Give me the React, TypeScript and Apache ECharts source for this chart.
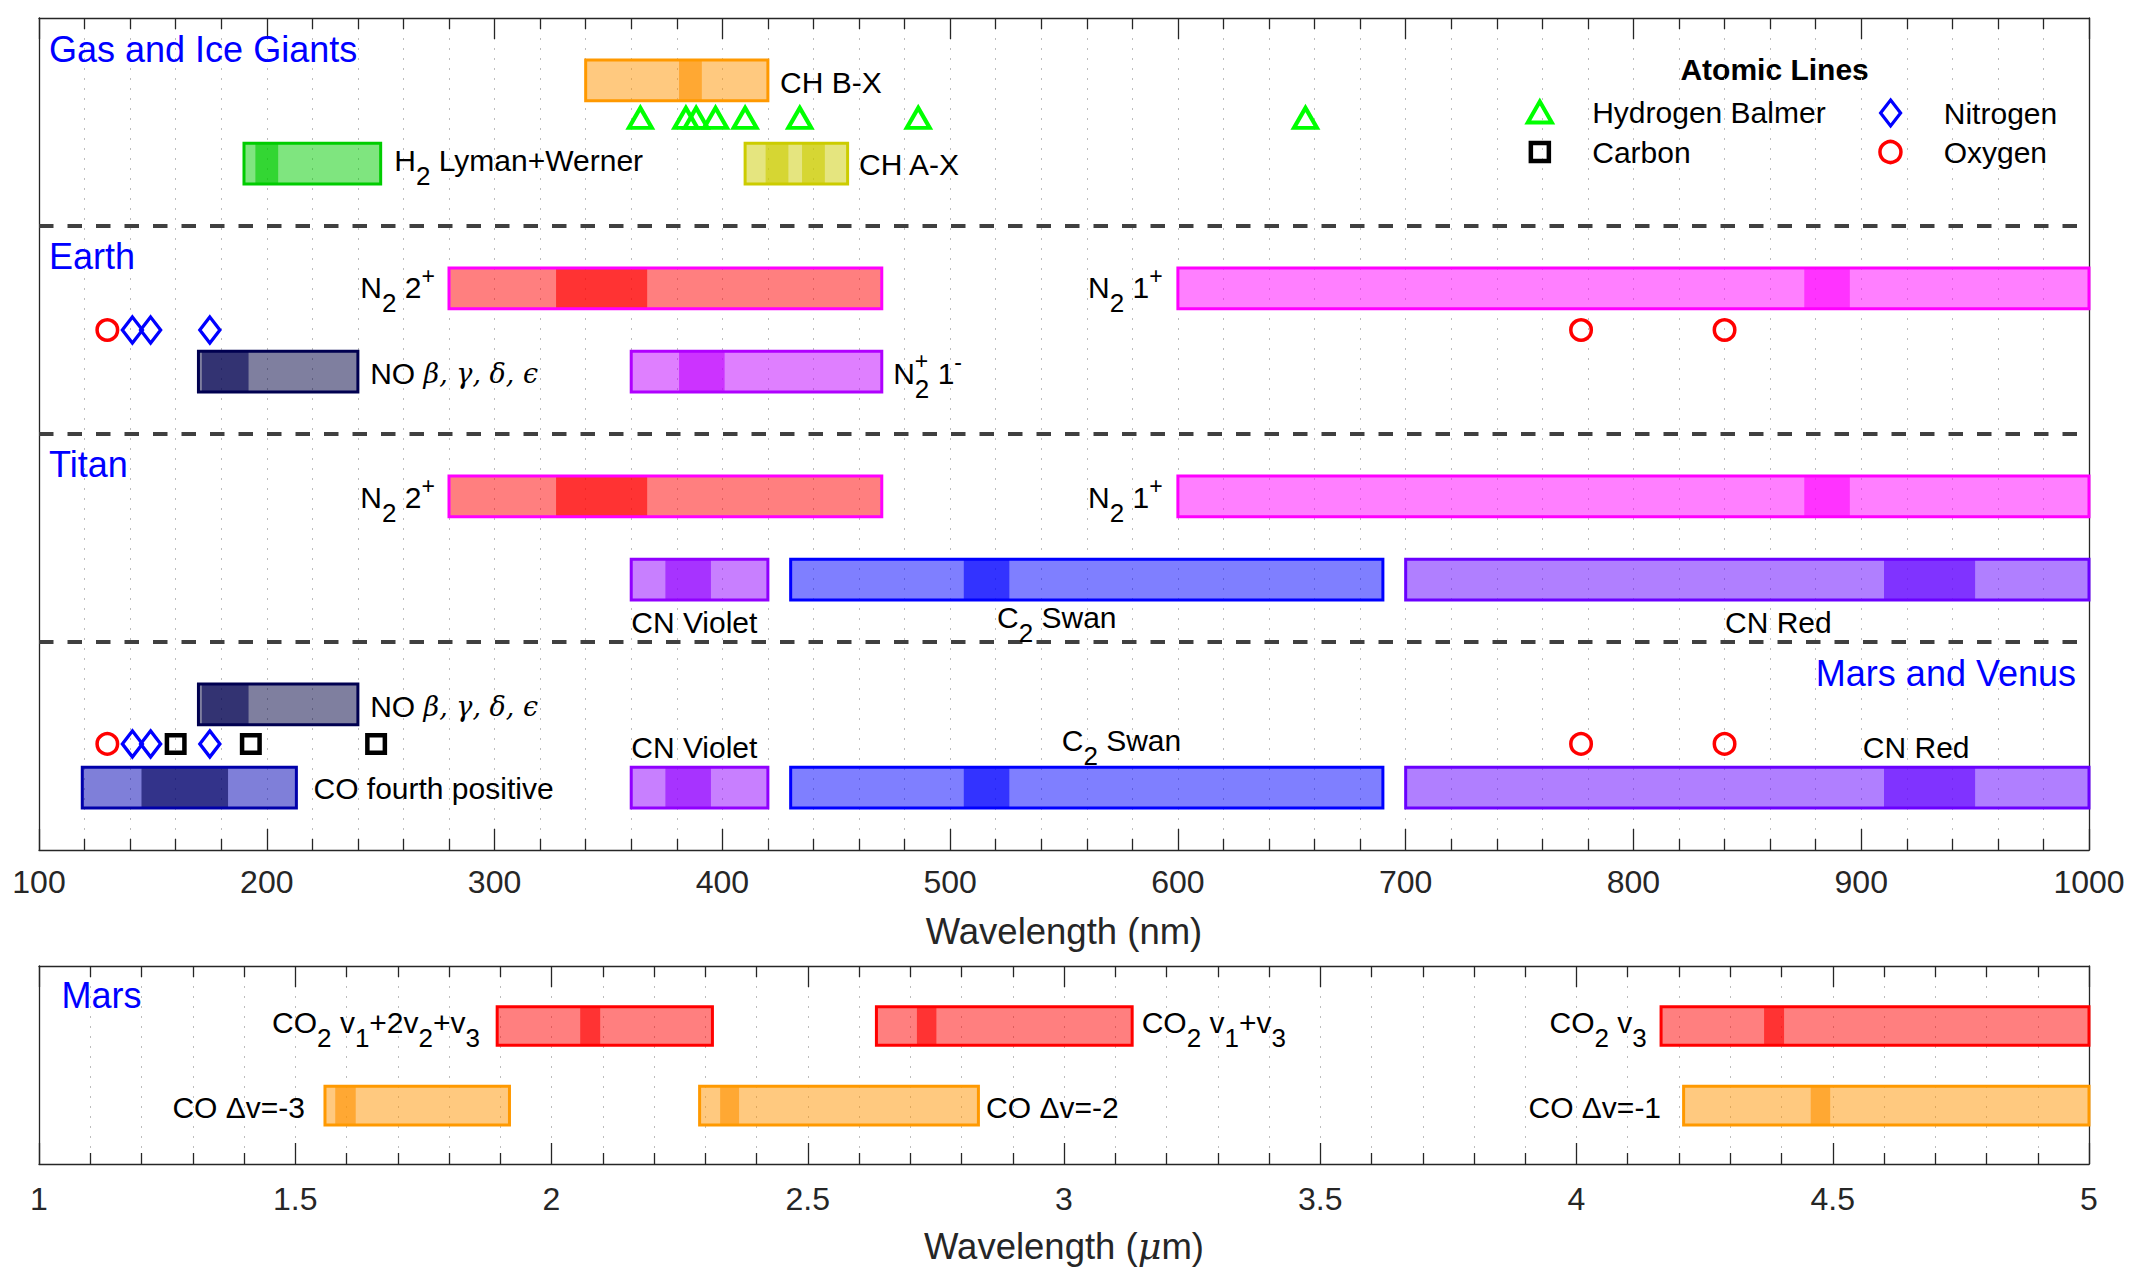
import React, { useEffect, useRef } from "react";
import * as echarts from "echarts";

// ================= DATA =================
// UV / visible panel: wavelength in nm. Rows: vertical position in panel units (0 = top, 40 = bottom).
const uvMin = 100;
const uvMax = 1000;
const uvStep = 100;
const uvRowMax = 40;
const sectionDividers = [10, 20, 30];

const bandNames = [
  "CH B-X", "H2 Lyman+Werner", "CH A-X",
  "N2 2+ (Earth)", "N2 1+ (Earth)", "NO (Earth)", "N2+ 1- (Earth)",
  "N2 2+ (Titan)", "N2 1+ (Titan)", "CN Violet (Titan)", "C2 Swan (Titan)", "CN Red (Titan)",
  "NO (Mars/Venus)", "CO fourth positive", "CN Violet (Mars/Venus)", "C2 Swan (Mars/Venus)", "CN Red (Mars/Venus)",
];
const bandStartNm = [340, 190, 410, 280, 600, 170, 360, 280, 600, 360, 430, 700, 170, 119, 360, 430, 700];
const bandEndNm = [420, 250, 455, 470, 1000, 240, 470, 470, 1000, 420, 690, 1000, 240, 213, 420, 690, 1000];
const bandRow = [3, 7, 7, 13, 13, 17, 17, 23, 23, 27, 27, 27, 33, 37, 37, 37, 37];
const bandCoreNm = [
  [[381, 391]], [[195, 205]], [[419, 429], [435, 445]],
  [[327, 367]], [[875, 895]], [[171.5, 192]], [[381, 401]],
  [[327, 367]], [[875, 895]], [[375, 395]], [[506, 526]], [[910, 950]],
  [[171.5, 192]], [[145, 183]], [[375, 395]], [[506, 526]], [[910, 950]],
];
const bandKind = [
  "chbx", "h2", "chax",
  "n2pos2", "n2pos1", "no", "n2plus",
  "n2pos2", "n2pos1", "cnviolet", "c2swan", "cnred",
  "no", "co4", "cnviolet", "c2swan", "cnred",
];

// Atomic lines (nm)
const balmerNm = [364, 384, 388.5, 397, 410, 434, 486, 656];
const balmerRow = 4.8;
const oxygenNm = [130, 777, 840];
const nitrogenNm = [141, 149, 175];
const carbonNm = [160, 193, 248];
const earthAtomRow = 15;
const marsVenusAtomRow = 34.9;

// Infrared panel: wavelength in µm, rows 0..10
const irMin = 1;
const irMax = 5;
const irStep = 0.5;
const irRowMax = 10;
const irBandNames = ["CO2 v1+2v2+v3", "CO2 v1+v3", "CO2 v3", "CO Δv=-3", "CO Δv=-2", "CO Δv=-1"];
const irBandStartUm = [1.894, 2.634, 4.165, 1.558, 2.289, 4.209];
const irBandEndUm = [2.314, 3.133, 5, 1.918, 2.833, 5];
const irBandRow = [3.03, 3.03, 3.03, 7.05, 7.05, 7.05];
const irBandCoreUm = [[[2.056, 2.095]], [[2.713, 2.751]], [[4.366, 4.405]], [[1.578, 1.618]], [[2.329, 2.366]], [[4.457, 4.495]]];
const irBandKind = ["co2", "co2", "co2", "co", "co", "co"];

// Annotations (anchor in data coordinates)
const uvLabelText = [
  "Gas and Ice Giants", "CH B-X", "{m|H}{sb|2}{m| Lyman+Werner}", "CH A-X",
  "Earth", "{m|N}{sb|2}{m| 2}{sp|+}", "{m|N}{sb|2}{m| 1}{sp|+}", "{m|NO }{g|β, γ, δ, ϵ}", "{m|N}{sb|2}{m| 1}{sp|-}",
  "Titan", "{m|N}{sb|2}{m| 2}{sp|+}", "{m|N}{sb|2}{m| 1}{sp|+}", "CN Violet", "{m|C}{sb|2}{m| Swan}", "CN Red",
  "Mars and Venus", "{m|NO }{g|β, γ, δ, ϵ}", "CO fourth positive", "CN Violet", "{m|C}{sb|2}{m| Swan}", "CN Red",
];
const uvLabelX = [104.4, 425.3, 256, 460, 104.4, 273.8, 593.3, 245.4, 475, 104.4, 273.8, 593.3, 360, 520.6, 840.2, 994.3, 245.4, 220.5, 360, 549, 900.7];
const uvLabelY = [1.51, 3.08, 6.83, 7.04, 11.49, 12.98, 12.98, 17.11, 17.07, 21.48, 23.05, 23.05, 29.05, 28.8, 29.05, 31.5, 33.08, 37.04, 35.05, 34.72, 35.05];
const uvLabelAlign = ["left", "left", "left", "left", "left", "right", "right", "left", "left", "left", "right", "right", "left", "left", "left", "right", "left", "left", "left", "left", "left"];
const uvLabelKind = ["section", "note", "note", "note", "section", "note", "note", "note", "note", "section", "note", "note", "note", "note", "note", "section", "note", "note", "note", "note", "note"];
const uvLabelStacked: Record<number, { after: string; text: string }> = { 8: { after: "N", text: "{sp|+}" } };

const irLabelText = [
  "Mars",
  "{m|CO}{sb|2}{m| v}{sb|1}{m|+2v}{sb|2}{m|+v}{sb|3}",
  "{m|CO}{sb|2}{m| v}{sb|1}{m|+v}{sb|3}",
  "{m|CO}{sb|2}{m| v}{sb|3}",
  "CO Δv=-3", "CO Δv=-2", "CO Δv=-1",
];
const irLabelX = [1.0437, 1.8605, 3.1516, 4.137, 1.519, 2.848, 4.165];
const irLabelY = [1.49, 2.83, 2.83, 2.83, 7.17, 7.17, 7.17];
const irLabelAlign = ["left", "right", "left", "right", "right", "left", "right"];
const irLabelKind = ["section", "note", "note", "note", "note", "note", "note"];

// ================= STYLE =================
const SANS = "Liberation Sans";
const AXIS_COLOR = "#262626";
const GRID_COLOR = "#BDBDBD";
const NOTE_SIZE = 30;
const SECTION_SIZE = 36;
const MAIN_PAD = 8;
const BAR_HEIGHT = 1.95;

const KIND_STYLE: Record<string, { base: string; core: string; border: string }> = {
  chbx: { base: "255,147,0", core: "255,147,0", border: "#FF9900" },
  co: { base: "255,147,0", core: "255,147,0", border: "#FF9900" },
  h2: { base: "0,204,0", core: "0,204,0", border: "#00CC00" },
  chax: { base: "204,204,0", core: "204,204,0", border: "#CCCC00" },
  n2pos2: { base: "255,0,0", core: "255,0,0", border: "#FF00FF" },
  n2pos1: { base: "255,0,255", core: "255,0,255", border: "#FF00FF" },
  no: { base: "0,0,64", core: "0,0,85", border: "#000050" },
  n2plus: { base: "192,0,255", core: "192,0,255", border: "#B000FF" },
  cnviolet: { base: "145,0,255", core: "145,0,255", border: "#9000FF" },
  c2swan: { base: "0,0,255", core: "0,0,255", border: "#0000FF" },
  cnred: { base: "97,0,255", core: "97,0,255", border: "#6A00FF" },
  co4: { base: "0,0,180", core: "0,0,85", border: "#0000AA" },
  co2: { base: "255,0,0", core: "255,0,0", border: "#FF0000" },
};

const RICH: any = {
  m: { fontSize: NOTE_SIZE, height: NOTE_SIZE, fontFamily: SANS, padding: [MAIN_PAD, 0, 0, 0], verticalAlign: "top" },
  sb: { fontSize: 26, height: 26, fontFamily: SANS, padding: [25.5, 0, 0, 0], verticalAlign: "top" },
  sp: { fontSize: 23, height: 23, fontFamily: SANS, padding: [0, 0, 0, 0], verticalAlign: "top" },
  g: { fontSize: 27, height: NOTE_SIZE, fontFamily: "DejaVu Serif", fontStyle: "italic", padding: [MAIN_PAD, 0, 0, 0], verticalAlign: "top" },
};

function textWidth(text: string, font: string): number {
  const ctx = document.createElement("canvas").getContext("2d");
  if (!ctx) return 0;
  ctx.font = font;
  return ctx.measureText(text).width;
}

function makeBandRenderer(cores: number[][][], kinds: string[], barHeight: number) {
  return (_params: any, api: any) => {
    const start = api.value(0);
    const end = api.value(1);
    const row = api.value(2);
    const i = api.value(3);
    const p0 = api.coord([start, row]);
    const p1 = api.coord([end, row]);
    const h = api.size([0, barHeight])[1];
    const top = p0[1] - h / 2;
    const st = KIND_STYLE[kinds[i]];
    const children: any[] = [
      { type: "rect", shape: { x: p0[0], y: top, width: p1[0] - p0[0], height: h }, style: { fill: `rgba(${st.base},0.5)` } },
    ];
    cores[i].forEach(([a, b]) => {
      const q0 = api.coord([a, row]);
      const q1 = api.coord([b, row]);
      children.push({ type: "rect", shape: { x: q0[0], y: top, width: q1[0] - q0[0], height: h }, style: { fill: `rgba(${st.core},0.6)` } });
    });
    children.push({
      type: "rect",
      shape: { x: p0[0], y: top, width: p1[0] - p0[0], height: h },
      style: { fill: "none", stroke: st.border, lineWidth: 3 },
    });
    return { type: "group", children };
  };
}

function makeLabelRenderer(texts: string[], aligns: string[], kinds: string[], stacked: Record<number, { after: string; text: string }>) {
  return (_params: any, api: any) => {
    const i = api.value(2);
    const p = api.coord([api.value(0), api.value(1)]);
    const txt = texts[i];
    const align = aligns[i];
    if (kinds[i] === "section") {
      return { type: "text", x: p[0], y: p[1], style: { text: txt, fontSize: SECTION_SIZE, fontFamily: SANS, fill: "#0000FF", align, verticalAlign: "middle" } };
    }
    if (txt.indexOf("{") < 0) {
      return { type: "text", x: p[0], y: p[1], style: { text: txt, fontSize: NOTE_SIZE, fontFamily: SANS, fill: "#000000", align, verticalAlign: "middle" } };
    }
    const top = p[1] - MAIN_PAD - NOTE_SIZE / 2;
    const children: any[] = [
      { type: "text", x: p[0], y: top, style: { text: txt, rich: RICH, fontSize: NOTE_SIZE, fontFamily: SANS, fill: "#000000", align, verticalAlign: "top" } },
    ];
    const st = stacked[i];
    if (st) {
      const dx = textWidth(st.after, `${NOTE_SIZE}px "${SANS}"`);
      children.push({ type: "text", x: p[0] + dx, y: top - 1, style: { text: st.text, rich: RICH, fontSize: NOTE_SIZE, fontFamily: SANS, fill: "#000000", align: "left", verticalAlign: "top" } });
    }
    return { type: "group", children };
  };
}

function bottomXAxis(gridIndex: number, min: number, max: number, interval: number, name: string, nameGap: number, margin: number) {
  const grid = { color: GRID_COLOR, width: 1, type: [2, 8] };
  return {
    type: "value", gridIndex, min, max, interval, position: "bottom",
    name, nameLocation: "middle", nameGap, nameMoveOverlap: false,
    nameTextStyle: {
      fontSize: 36.5, color: AXIS_COLOR, fontFamily: SANS,
      rich: { mu: { fontSize: 36.5, color: AXIS_COLOR, fontFamily: "DejaVu Serif", fontStyle: "italic" } },
    },
    axisLine: { show: true, onZero: false, lineStyle: { color: AXIS_COLOR, width: 1.3 } },
    axisTick: { show: true, inside: true, length: 21, lineStyle: { color: AXIS_COLOR, width: 1.3 } },
    minorTick: { show: true, splitNumber: 5, length: 11, lineStyle: { color: AXIS_COLOR, width: 1.3 } },
    axisLabel: { show: true, fontSize: 32, color: AXIS_COLOR, fontFamily: SANS, margin, hideOverlap: false, formatter: (v: number) => String(v) },
    splitLine: { show: true, lineStyle: grid },
    minorSplitLine: { show: true, lineStyle: grid },
  };
}

function topXAxis(gridIndex: number, min: number, max: number, interval: number) {
  return {
    type: "value", gridIndex, min, max, interval, position: "top",
    axisLine: { show: true, onZero: false, lineStyle: { color: AXIS_COLOR, width: 1.3 } },
    axisTick: { show: true, inside: true, length: 21, lineStyle: { color: AXIS_COLOR, width: 1.3 } },
    minorTick: { show: true, splitNumber: 5, length: 11, lineStyle: { color: AXIS_COLOR, width: 1.3 } },
    axisLabel: { show: false },
    splitLine: { show: false },
    minorSplitLine: { show: false },
  };
}

function sideYAxis(gridIndex: number, max: number, position: string) {
  return {
    type: "value", gridIndex, min: 0, max, inverse: true, position,
    axisLine: { show: true, onZero: false, lineStyle: { color: AXIS_COLOR, width: 1.3 } },
    axisTick: { show: false }, axisLabel: { show: false }, splitLine: { show: false },
  };
}

function atomSeries(name: string, symbol: string, size: any, color: string, width: number, data: number[][]) {
  return {
    type: "scatter", name, xAxisIndex: 0, yAxisIndex: 0, symbol, symbolSize: size, z: 4, silent: true,
    itemStyle: { color: "rgba(0,0,0,0)", borderColor: color, borderWidth: width, opacity: 1 },
    emphasis: { disabled: true },
    data,
  };
}

function legendItem(name: string, icon: string, w: number, h: number, left: number, top: number, pad: number, bw: number) {
  return {
    show: true, data: [{ name, icon }], left, top, orient: "vertical", padding: 0,
    itemWidth: w, itemHeight: h, selectedMode: false,
    itemStyle: { borderWidth: bw },
    textStyle: { fontSize: 30, color: "#000000", fontFamily: SANS, padding: [0, 0, 0, pad] },
  };
}

function buildOption() {
  const dividerSeries = sectionDividers.map((y, k) => ({
    type: "line", name: `divider${k + 1}`, xAxisIndex: 0, yAxisIndex: 0, z: 3, silent: true,
    symbol: "none", lineStyle: { color: "#404040", width: 4, type: [14.5, 14] },
    data: [[uvMin, y], [uvMax, y]],
  }));

  return {
    animation: false,
    backgroundColor: "#ffffff",
    textStyle: { fontFamily: SANS },
    grid: [
      { left: 39, right: 49, top: 18, height: 832, containLabel: false, outerBoundsMode: "none" },
      { left: 39, right: 49, top: 966, height: 198, containLabel: false, outerBoundsMode: "none" },
    ],
    xAxis: [
      bottomXAxis(0, uvMin, uvMax, uvStep, "Wavelength (nm)", 63, 16),
      topXAxis(0, uvMin, uvMax, uvStep),
      bottomXAxis(1, irMin, irMax, irStep, "Wavelength ({mu|μ}m)", 64, 19),
      topXAxis(1, irMin, irMax, irStep),
    ],
    yAxis: [sideYAxis(0, uvRowMax, "left"), sideYAxis(0, uvRowMax, "right"), sideYAxis(1, irRowMax, "left"), sideYAxis(1, irRowMax, "right")],
    legend: [
      legendItem("Hydrogen Balmer", "path://M12,0L24,21L0,21Z", 24, 21, 1525.8, 97, 35.4, 4),
      legendItem("Carbon", "path://M0,0L18,0L18,18L0,18Z", 18, 18, 1528.6, 137, 38.4, 4.5),
      legendItem("Nitrogen", "path://M10,0L20,13L10,26L0,13Z", 20, 26, 1879, 98, 38.2, 3.2),
      legendItem("Oxygen", "circle", 21, 21, 1878.2, 137, 37.7, 3.5),
    ],
    graphic: [
      {
        type: "text", x: 1774.6, y: 69,
        style: { text: "Atomic Lines", fontSize: 30, fontWeight: "bold", fontFamily: SANS, fill: "#000000", align: "center", verticalAlign: "middle" },
      },
    ],
    series: [
      {
        type: "custom", name: "UV bands", xAxisIndex: 0, yAxisIndex: 0, z: 2, silent: true, clip: false,
        encode: { x: [0, 1], y: 2 },
        renderItem: makeBandRenderer(bandCoreNm, bandKind, BAR_HEIGHT),
        data: bandNames.map((n, i) => ({ name: n, value: [bandStartNm[i], bandEndNm[i], bandRow[i], i] })),
      },
      {
        type: "custom", name: "IR bands", xAxisIndex: 2, yAxisIndex: 2, z: 2, silent: true, clip: false,
        encode: { x: [0, 1], y: 2 },
        renderItem: makeBandRenderer(irBandCoreUm, irBandKind, BAR_HEIGHT),
        data: irBandNames.map((n, i) => ({ name: n, value: [irBandStartUm[i], irBandEndUm[i], irBandRow[i], i] })),
      },
      ...dividerSeries,
      atomSeries("Hydrogen Balmer", "triangle", [23, 20], "#00FF00", 4, balmerNm.map((x) => [x, balmerRow])),
      atomSeries("Oxygen", "circle", 20.5, "#FF0000", 3.5, [
        ...oxygenNm.map((x) => [x, earthAtomRow]),
        ...oxygenNm.map((x) => [x, marsVenusAtomRow]),
      ]),
      atomSeries("Nitrogen", "diamond", [20, 26], "#0000FF", 3.4, [
        ...nitrogenNm.map((x) => [x, earthAtomRow]),
        ...nitrogenNm.map((x) => [x, marsVenusAtomRow]),
      ]),
      atomSeries("Carbon", "rect", 17.5, "#000000", 4.5, carbonNm.map((x) => [x, marsVenusAtomRow])),
      {
        type: "custom", name: "UV labels", xAxisIndex: 0, yAxisIndex: 0, z: 5, silent: true, clip: false,
        encode: { x: 0, y: 1 },
        renderItem: makeLabelRenderer(uvLabelText, uvLabelAlign, uvLabelKind, uvLabelStacked),
        data: uvLabelX.map((x, i) => [x, uvLabelY[i], i]),
      },
      {
        type: "custom", name: "IR labels", xAxisIndex: 2, yAxisIndex: 2, z: 5, silent: true, clip: false,
        encode: { x: 0, y: 1 },
        renderItem: makeLabelRenderer(irLabelText, irLabelAlign, irLabelKind, {}),
        data: irLabelX.map((x, i) => [x, irLabelY[i], i]),
      },
    ],
  };
}

export default function App() {
  const ref = useRef<HTMLDivElement>(null);
  useEffect(() => {
    document.body.style.margin = "0";
    const el = ref.current;
    if (!el) return;
    const chart = echarts.init(el, null, { renderer: "svg" });
    chart.setOption(buildOption() as any);
    return () => chart.dispose();
  }, []);
  return <div ref={ref} style={{ width: 2138, height: 1285 }} />;
}
